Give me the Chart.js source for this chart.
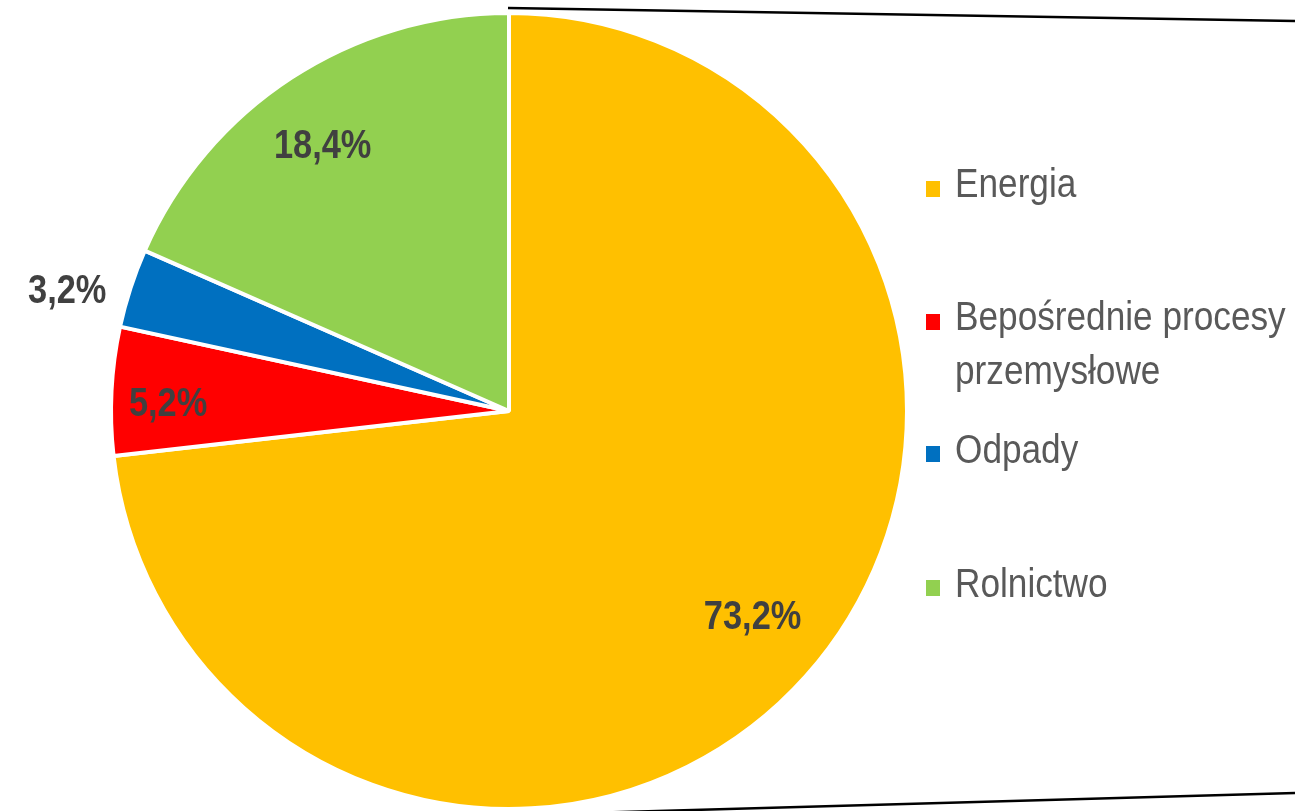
<!DOCTYPE html>
<html>
<head>
<meta charset="utf-8">
<script src="https://cdn.jsdelivr.net/npm/chart.js@4.4.0/dist/chart.umd.min.js"></script>
<style>
  html, body { margin: 0; padding: 0; background: #fff; }
  #wrap { position: relative; width: 1295px; height: 811px; overflow: hidden; }
  #chart { position: absolute; left: 0; top: 0; }
  #legend { position: absolute; left: 926px; top: 0; font-family: "Liberation Sans", Arial, sans-serif; font-size: 40px; color: #595959; }
  .box { position: absolute; left: 0; width: 14px; height: 16px; }
  .txt { position: absolute; left: 29px; white-space: nowrap; line-height: 40px; transform: scaleX(0.88); transform-origin: 0 0; }
</style>
</head>
<body>
<div id="wrap">
  <canvas id="chart" width="1295" height="811"></canvas>
  <div id="legend"></div>
</div>
<script>
const labels = ["Energia", "Bepośrednie procesy przemysłowe", "Odpady", "Rolnictwo"];
const legendLines = [["Energia"], ["Bepośrednie procesy", "przemysłowe"], ["Odpady"], ["Rolnictwo"]];
const values = [73.2, 5.2, 3.2, 18.4];
const valueText = ["73,2%", "5,2%", "3,2%", "18,4%"];
const colors = ["#FFC000", "#FF0000", "#0070C0", "#92D050"];

// where each percentage sits: fraction of radius, and angle nudge in degrees
const labelPos = [
  { r: 0.795, da: -2.1 },
  { r: 0.857, da: -1.0 },
  { r: 1.153, da: -2.3 },
  { r: 0.822, da: -1.6 },
];

const pctLabels = {
  id: "pctLabels",
  afterDatasetsDraw(chart) {
    const c = chart.ctx;
    const meta = chart.getDatasetMeta(0);
    meta.data.forEach((arc, i) => {
      const p = arc.getProps(["x", "y", "startAngle", "endAngle", "outerRadius"], true);
      const mid = (p.startAngle + p.endAngle) / 2 + labelPos[i].da * Math.PI / 180;
      const rr = p.outerRadius * labelPos[i].r;
      c.save();
      c.translate(p.x + Math.cos(mid) * rr, p.y + Math.sin(mid) * rr + 5);
      c.scale(0.86, 1);
      c.font = "bold 40px 'Liberation Sans', Arial, sans-serif";
      c.fillStyle = "#404040";
      c.textAlign = "center";
      c.textBaseline = "middle";
      c.fillText(valueText[i], 0, 0);
      c.restore();
    });
  },
};

// skewed frame lines from the original image
const frame = {
  id: "frame",
  afterDraw(chart) {
    const c = chart.ctx;
    c.save();
    c.strokeStyle = "#000";
    c.lineWidth = 2.5;
    c.beginPath();
    c.moveTo(508, 8);
    c.lineTo(1295, 21);
    c.moveTo(480, 816);
    c.lineTo(1295, 793);
    c.stroke();
    c.restore();
  },
};

new Chart(document.getElementById("chart"), {
  type: "pie",
  data: {
    labels: labels,
    datasets: [{
      data: values,
      backgroundColor: colors,
      borderColor: "#fff",
      borderWidth: 4,
    }],
  },
  options: {
    responsive: false,
    animation: false,
    layout: { padding: { left: 0, right: 277, top: 11, bottom: 0 } },
    plugins: {
      legend: { display: false },
      tooltip: { enabled: false },
    },
  },
  plugins: [pctLabels, frame],
});

// legend on the right (baselines)
const baselines = [[197], [330, 384], [463], [597]];
const boxY = [181, 314, 446, 580];
const leg = document.getElementById("legend");
labels.forEach((lab, i) => {
  const box = document.createElement("div");
  box.className = "box";
  box.style.top = boxY[i] + "px";
  box.style.background = colors[i];
  leg.appendChild(box);
  legendLines[i].forEach((ln, j) => {
    const t = document.createElement("div");
    t.className = "txt";
    t.style.top = (baselines[i][j] - 34) + "px";
    t.textContent = ln;
    leg.appendChild(t);
  });
});
</script>
</body>
</html>
